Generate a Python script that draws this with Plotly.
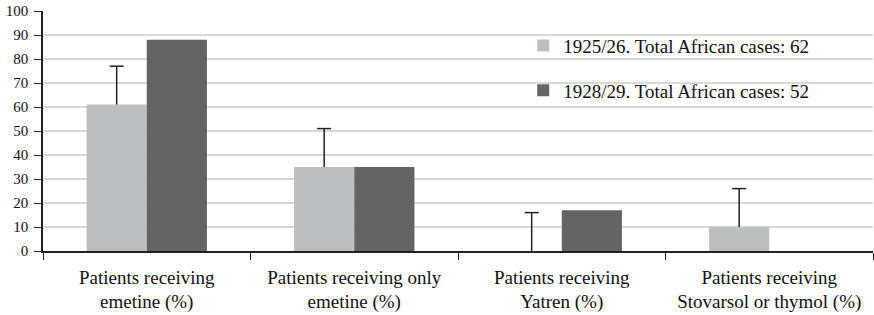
import plotly.graph_objects as go

categories = ["Patients receiving<br>emetine (%)",
              "Patients receiving only<br>emetine (%)",
              "Patients receiving<br>Yatren (%)",
              "Patients receiving<br>Stovarsol or thymol (%)"]
series_1925 = [61, 35, 0, 10]
error_1925 = [16, 16, 16, 16]
series_1928 = [88, 35, 17, 0]
y_ticks = list(range(0, 101, 10))

SERIF = "Liberation Serif, DejaVu Serif, Times New Roman, serif"

err_tops = [v + e for v, e in zip(series_1925, error_1925)]

fig = go.Figure()
fig.add_trace(go.Bar(
    x=categories, y=series_1925, name="1925/26. Total African cases: 62",
    marker=dict(color="#BDBEC0", line=dict(width=0)),
    error_y=dict(type="data", array=error_1925, symmetric=False, arrayminus=[0]*4,
                 color="#222222", thickness=1.5, width=0),
    offsetgroup="a", legendgroup="a"))
fig.add_trace(go.Bar(
    x=categories, y=series_1928, name="1928/29. Total African cases: 52",
    marker=dict(color="#646464", line=dict(width=0)),
    offsetgroup="b", legendgroup="b"))
fig.add_trace(go.Scatter(
    x=categories, y=err_tops, mode="markers", showlegend=False, hoverinfo="skip",
    marker=dict(symbol="line-ew", size=10, line=dict(color="#222222", width=1.5)),
    offsetgroup="a"))
fig.add_trace(go.Scatter(
    x=categories, y=[None]*4, mode="markers", showlegend=False, hoverinfo="skip",
    offsetgroup="b"))

fig.update_layout(
    width=874, height=315,
    margin=dict(l=43, r=1, t=11, b=64, autoexpand=False),
    paper_bgcolor="white", plot_bgcolor="white",
    barmode="group", bargap=0.42, bargroupgap=0,
    scattermode="group", scattergap=0.42,
    font=dict(family=SERIF, color="#111111"),
    showlegend=True,
    legend=dict(x=0.5786, y=0.935, xanchor="left", yanchor="top",
                bgcolor="rgba(0,0,0,0)", font=dict(size=19, family=SERIF),
                traceorder="grouped", tracegroupgap=17, itemwidth=30),
    xaxis=dict(showline=True, linecolor="#222222", linewidth=1.5,
               ticks="outside", tickson="boundaries", ticklen=7, automargin=False,
               ticklabelstandoff=8,
               tickcolor="#222222", tickfont=dict(size=19, family=SERIF)),
    yaxis=dict(range=[0, 100], tickvals=y_ticks, showgrid=True, automargin=False,
               gridcolor="#D9D9D9", gridwidth=1.5, showline=True,
               linecolor="#222222", linewidth=1.5, ticks="outside",
               ticklen=7, tickcolor="#222222", zeroline=False, ticklabelstandoff=3,
               tickfont=dict(size=15, family=SERIF)),
)
fig.write_html("out.html", config={"displayModeBar": False},
               post_script="document.body.style.margin='0';")
